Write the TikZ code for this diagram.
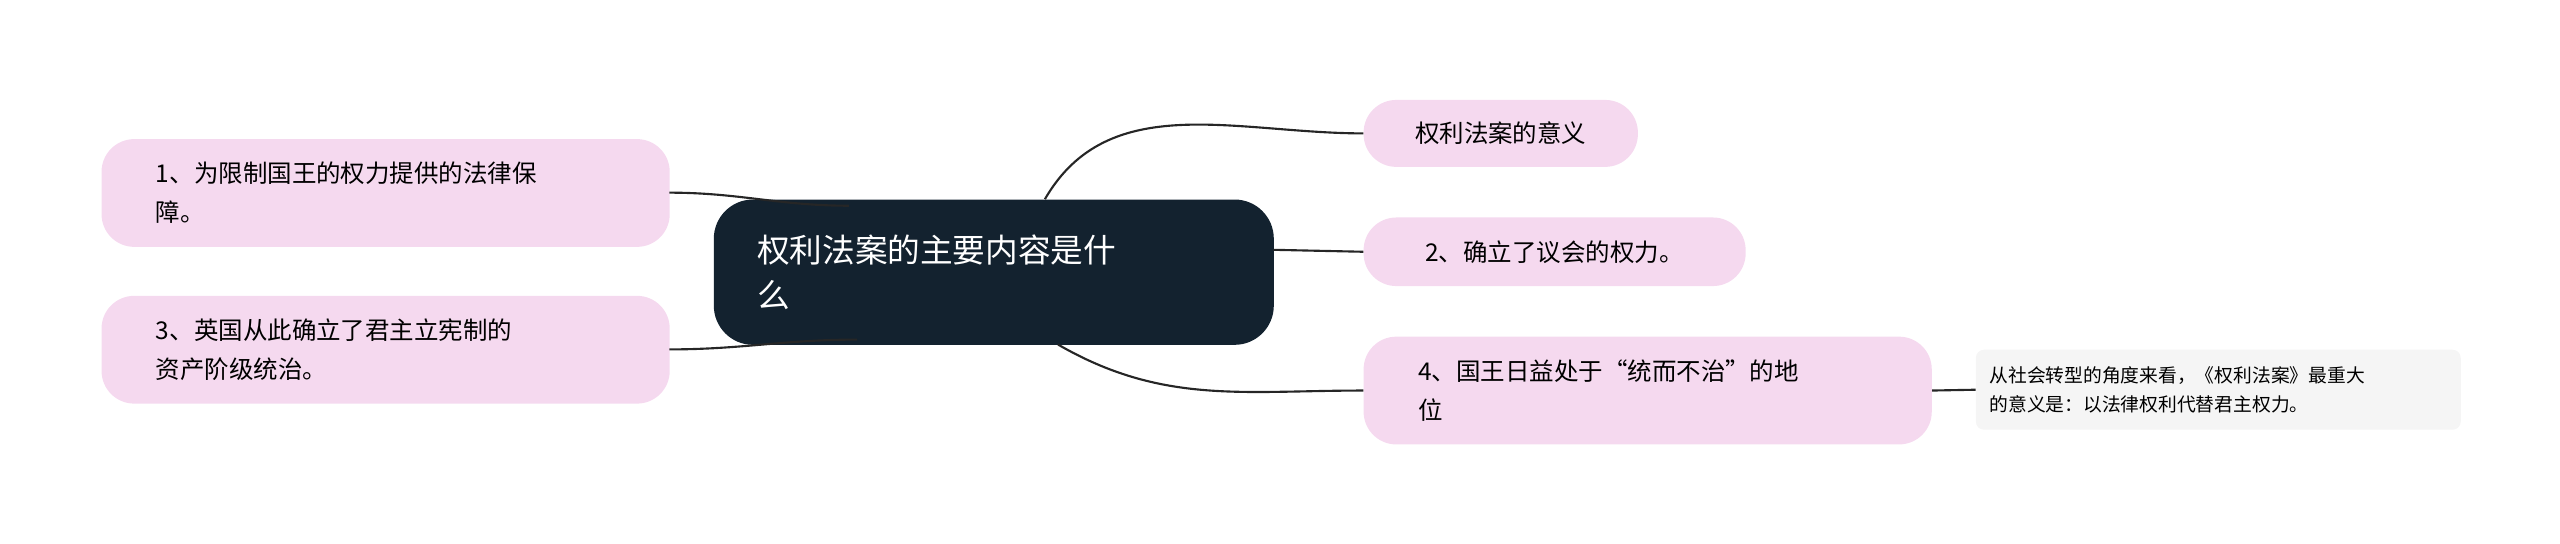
\documentclass[tikz,border=0pt]{standalone}
\usepackage{fontspec}
\setmainfont{Noto Sans CJK SC}
\begin{document}
\begin{tikzpicture}[x=1pt,y=-1pt,
  pinkbox/.style={fill=pink1,rounded corners=20pt,inner sep=0pt},
  lnk/.style={draw=black!85,line width=1.3pt}]
\definecolor{pink1}{HTML}{F5D9EF}
\definecolor{navy}{HTML}{13222F}
\useasboundingbox (0,0) rectangle (1568,333);
% central
\node[fill=navy,rounded corners=24pt,minimum width=343pt,minimum height=89pt,anchor=north west] (c) at (437,122) {};
\node[text=white,font=\fontsize{20}{28}\selectfont,align=left,text width=290pt] at (c.center) {权利法案的主要内容是什\\么};
% left
\node[pinkbox,minimum width=348pt,minimum height=66pt,anchor=north west] (l1) at (62,85) {};
\node[font=\fontsize{15}{24}\selectfont,align=left,text width=300pt,anchor=west] at ([xshift=30pt]l1.west) {1、为限制国王的权力提供的法律保\\障。};
\node[pinkbox,minimum width=348pt,minimum height=66pt,anchor=north west] (l2) at (62,181) {};
\node[font=\fontsize{15}{24}\selectfont,align=left,text width=300pt,anchor=west] at ([xshift=30pt]l2.west) {3、英国从此确立了君主立宪制的\\资产阶级统治。};
% right
\node[pinkbox,minimum width=168pt,minimum height=41pt,anchor=north west,font=\fontsize{15}{20}\selectfont] (r1) at (835,61) {权利法案的意义};
\node[pinkbox,minimum width=234pt,minimum height=42pt,anchor=north west,font=\fontsize{15}{20}\selectfont] (r2) at (835,133) {2、确立了议会的权力。};
\node[pinkbox,minimum width=348pt,minimum height=66pt,anchor=north west] (r3) at (835,206) {};
\node[font=\fontsize{15}{24}\selectfont,align=left,text width=300pt,anchor=west] at ([xshift=30pt]r3.west) {4、国王日益处于“统而不治”的地\\位};
\node[fill=black!4,rounded corners=5pt,minimum width=297pt,minimum height=49pt,anchor=north west] (leaf) at (1210,214) {};
\node[font=\fontsize{11.5}{18}\selectfont,align=left,text width=290pt,anchor=west] at ([xshift=5pt]leaf.west) {从社会转型的角度来看，《权利法案》最重大\\的意义是：以法律权利代替君主权力。};
% links
\draw[lnk] (l1.east) ++(0,0) coordinate (a1);
\draw[lnk] (410,118) to[out=0,in=180] (520,126);
\draw[lnk] (410,214) to[out=0,in=180] (525,208);
\draw[lnk] (640,122) to[out=60,in=180] (r1.west);
\draw[lnk] (780,153) -- (r2.west);
\draw[lnk] (648,211) to[out=-30,in=180] (r3.west);
\draw[lnk] (r3.east) -- (leaf.west);
\end{tikzpicture}
\end{document}
